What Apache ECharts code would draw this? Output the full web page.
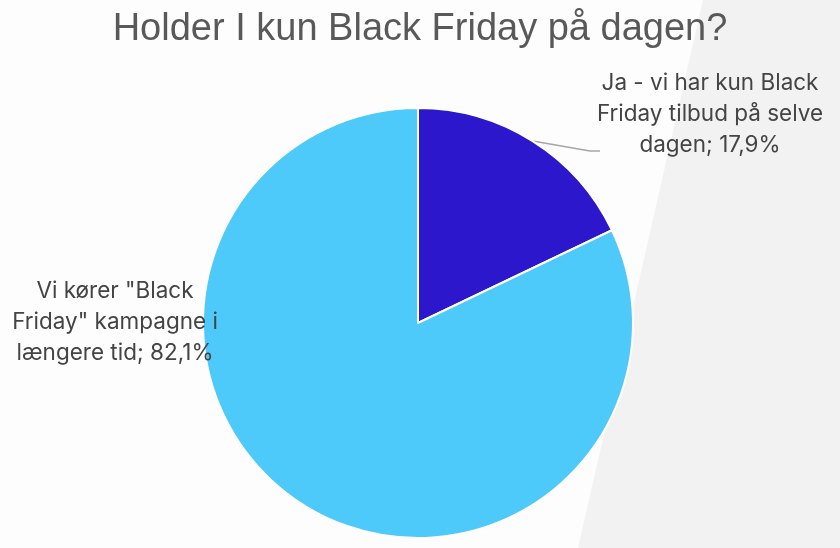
<!DOCTYPE html>
<html><head><meta charset="utf-8">
<script src="https://cdn.jsdelivr.net/npm/echarts@6/dist/echarts.min.js"></script>
<style>html,body{margin:0;padding:0;background:#fdfdfd}#c{width:840px;height:548px}</style>
</head><body><div id="c"></div>
<script>
const titleText = 'Holder I kun Black Friday på dagen?';
const categories = ['Ja - vi har kun Black\nFriday tilbud på selve\ndagen', 'Vi kører "Black\nFriday" kampagne i\nlængere tid'];
const values = [17.9, 82.1];
const labelTexts = ['Ja - vi har kun Black\nFriday tilbud på selve\ndagen; 17,9%', 'Vi kører "Black\nFriday" kampagne i\nlængere tid; 82,1%'];
const colors = ['#2c17cc', '#4dc9fa'];

const chart = echarts.init(document.getElementById('c'));
const font = 'Inter';
chart.setOption({
  backgroundColor: '#fdfdfd',
  graphic: [{
    type: 'polygon', z: -10, silent: true,
    shape: { points: [[703, 0], [840, 0], [840, 548], [578, 548]] },
    style: { fill: '#f2f2f2' }
  }],
  title: {
    text: titleText, left: 'center', top: 6,
    textStyle: { fontFamily: 'Liberation Sans', fontWeight: 'normal', fontSize: 38, color: '#595959' }
  },
  series: [{
    type: 'pie',
    center: [418, 323],
    radius: 215,
    startAngle: 90,
    clockwise: true,
    avoidLabelOverlap: false,
    itemStyle: { borderColor: '#ffffff', borderWidth: 2 },
    label: {
      show: true,
      formatter: p => labelTexts[p.dataIndex],
      fontFamily: font, fontSize: 22.5, lineHeight: 31, color: '#444444', align: 'center'
    },
    labelLine: { show: true, lineStyle: { color: '#a6a6a6', width: 1.5 } },
    labelLayout: function (p) {
      if (p.dataIndex === 0) {
        const s = p.labelLinePoints ? p.labelLinePoints[0] : [533, 141];
        return { x: 710, y: 114, align: 'center', verticalAlign: 'middle',
          labelLinePoints: [s, [590, 151], [600, 151]] };
      }
      return { x: 115, y: 322, align: 'center', verticalAlign: 'middle', labelLinePoints: [[0,0],[0,0],[0,0]] };
    },
    data: categories.map((c, i) => ({
      name: c, value: values[i], itemStyle: { color: colors[i] },
      labelLine: { show: i === 0 }
    }))
  }]
});
</script></body></html>
